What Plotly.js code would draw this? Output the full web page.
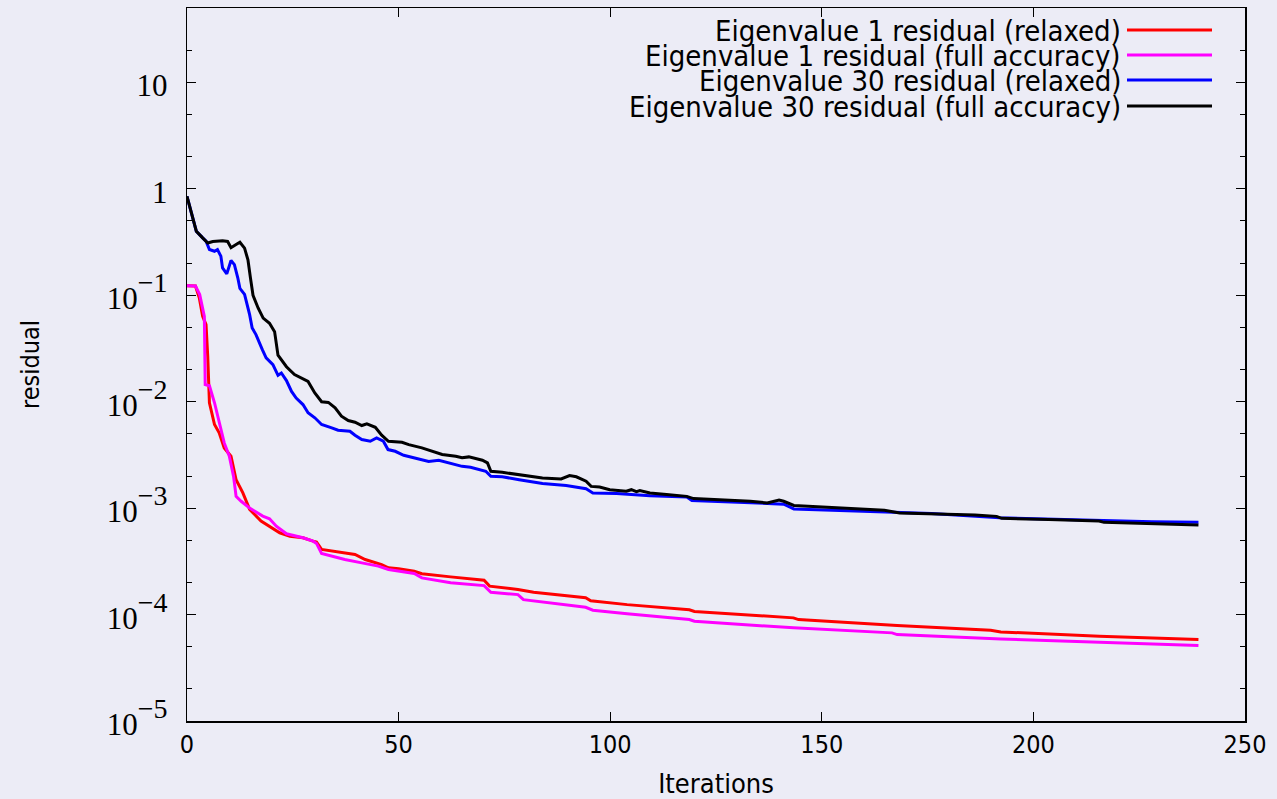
<!DOCTYPE html>
<html>
<head>
<meta charset="utf-8">
<script src="https://cdn.plot.ly/plotly-3.0.1.min.js"></script>
<style>html,body{margin:0;padding:0;background:#ececf6;}#chart{width:1277px;height:799px;}</style>
</head>
<body>
<div id="chart"></div>
<script>
// Series names
const seriesNames = [
  "Eigenvalue 1 residual (relaxed)",
  "Eigenvalue 1 residual (full accuracy)",
  "Eigenvalue 30 residual (relaxed)",
  "Eigenvalue 30 residual (full accuracy)"
];

// Eigenvalue 1 residual (relaxed)
const ev1RelaxedX = [0, 2, 2.9, 3.7, 4.5, 4.9, 5.3, 6.5, 7.6, 8.8, 10.4, 11.6, 13.2, 14.8, 17.5, 19.5, 21.9, 24.3, 27.4, 29.8, 30.6, 31.8, 39.7, 42.1, 46, 47.6, 50, 53.7, 55.5, 62.3, 70.2, 71.5, 78.2, 81.9, 94.2, 95.4, 104, 118.7, 119.9, 143.3, 144.5, 167.8, 189.9, 192.3, 215.6, 239];
const ev1RelaxedY = [0.123, 0.122, 0.0946, 0.0634, 0.053, 0.0267, 9.77e-3, 6.1e-3, 5.1e-3, 3.68e-3, 3.07e-3, 1.85e-3, 1.39e-3, 9.73e-4, 7.55e-4, 6.77e-4, 5.87e-4, 5.45e-4, 5.27e-4, 4.9e-4, 4.79e-4, 4.09e-4, 3.67e-4, 3.29e-4, 2.95e-4, 2.75e-4, 2.69e-4, 2.55e-4, 2.42e-4, 2.26e-4, 2.10e-4, 1.85e-4, 1.72e-4, 1.62e-4, 1.44e-4, 1.35e-4, 1.24e-4, 1.11e-4, 1.07e-4, 9.31e-5, 8.97e-5, 7.89e-5, 7.12e-5, 6.87e-5, 6.25e-5, 5.82e-5];

// Eigenvalue 1 residual (full accuracy)
const ev1FullX = [0, 2, 3, 4.1, 4.3, 5.3, 6.5, 7.6, 8.8, 10, 11, 11.6, 12.8, 14.8, 16.3, 17.9, 19.5, 21.1, 23.5, 27.4, 29.8, 30.6, 31.8, 37.3, 41.3, 45.2, 47.6, 50, 53.7, 55.5, 62.3, 70.2, 71.8, 78.2, 79.5, 94.2, 95.9, 104, 118.7, 119.9, 143.3, 166.6, 167.8, 192.3, 215.6, 239];
const ev1FullY = [0.123, 0.122, 0.1015, 0.0634, 0.0145, 0.0141, 9.77e-3, 6.32e-3, 4.1e-3, 3.07e-3, 1.99e-3, 1.29e-3, 1.16e-3, 1.0e-3, 9.17e-4, 8.41e-4, 7.95e-4, 6.77e-4, 5.74e-4, 5.27e-4, 4.89e-4, 4.66e-4, 3.75e-4, 3.29e-4, 3.06e-4, 2.85e-4, 2.65e-4, 2.55e-4, 2.43e-4, 2.21e-4, 1.99e-4, 1.87e-4, 1.62e-4, 1.54e-4, 1.38e-4, 1.17e-4, 1.10e-4, 1.02e-4, 8.97e-5, 8.65e-5, 7.5e-5, 6.73e-5, 6.49e-5, 5.91e-5, 5.48e-5, 5.11e-5];

// Eigenvalue 30 residual (relaxed)
const ev30RelaxedX = [0, 1.3, 2.2, 3.7, 4.5, 5.3, 6.5, 7.2, 8, 8.4, 9.4, 10.4, 11.2, 12, 12.5, 13.6, 14.8, 15.4, 16.3, 17.8, 18.7, 20.3, 21.5, 22.3, 23.5, 24.7, 25.8, 27.4, 28.6, 30.2, 31.8, 34.2, 35.7, 38.5, 39.7, 41.3, 43.3, 44.8, 46.4, 47.5, 49.2, 51.2, 54, 57.1, 59.5, 62.7, 65, 67, 70.6, 71.8, 74.5, 78.5, 84, 89.6, 94.3, 95.9, 101.5, 109.4, 118.1, 119.3, 129.2, 141, 143.4, 152.9, 168.8, 175.9, 192, 204, 216, 228, 239];
const ev30RelaxedY = [0.85, 0.53, 0.40, 0.346, 0.322, 0.269, 0.259, 0.269, 0.233, 0.181, 0.159, 0.212, 0.194, 0.146, 0.116, 0.102, 0.0658, 0.0493, 0.0427, 0.0308, 0.0258, 0.0223, 0.0177, 0.0186, 0.0158, 0.0125, 0.0108, 9.4e-3, 7.87e-3, 7.06e-3, 6.1e-3, 5.68e-3, 5.39e-3, 5.28e-3, 4.84e-3, 4.41e-3, 4.25e-3, 4.57e-3, 4.25e-3, 3.55e-3, 3.42e-3, 3.14e-3, 2.97e-3, 2.75e-3, 2.82e-3, 2.62e-3, 2.47e-3, 2.42e-3, 2.22e-3, 1.99e-3, 1.97e-3, 1.85e-3, 1.70e-3, 1.63e-3, 1.52e-3, 1.39e-3, 1.37e-3, 1.31e-3, 1.27e-3, 1.18e-3, 1.14e-3, 1.09e-3, 0.983e-3, 0.953e-3, 0.902e-3, 0.89e-3, 0.81e-3, 0.785e-3, 0.765e-3, 0.745e-3, 0.735e-3];

// Eigenvalue 30 residual (full accuracy)
const ev30FullX = [0, 1.3, 2.2, 3.7, 4.9, 6.1, 8.4, 9.6, 10.4, 11.6, 12.5, 13.6, 14.4, 15, 15.6, 16.8, 18, 19.5, 20.7, 21.5, 23.5, 25.4, 28.6, 30.2, 31.8, 33.4, 35, 36.5, 38.1, 39.7, 41.3, 42.5, 44.5, 46, 47.6, 50.8, 52.4, 55.5, 57.9, 60.3, 63.5, 65, 66.6, 69.8, 71, 71.8, 74.5, 78.5, 84, 88.4, 90.4, 92, 94.3, 95.5, 97.5, 99.9, 103.8, 105, 106.2, 107, 109.4, 113.3, 118.1, 119.7, 125.2, 133.1, 137.1, 139.9, 141, 143.4, 149, 156.9, 164.8, 168.4, 175.9, 186.2, 191.3, 192.5, 203.6, 215.5, 216.7, 227.4, 239];
const ev30FullY = [0.85, 0.53, 0.40, 0.346, 0.31, 0.32, 0.325, 0.32, 0.28, 0.30, 0.315, 0.277, 0.215, 0.145, 0.10, 0.076, 0.061, 0.0545, 0.0455, 0.0274, 0.0213, 0.0180, 0.0155, 0.0121, 0.0100, 0.00985, 0.00877, 0.00731, 0.00665, 0.00641, 0.00597, 0.0062, 0.00575, 0.00484, 0.00425, 0.00416, 0.00395, 0.00368, 0.00342, 0.00319, 0.00307, 0.00297, 0.00303, 0.00282, 0.00266, 0.00222, 0.00217, 0.00207, 1.92e-3, 1.88e-3, 2.02e-3, 1.97e-3, 1.79e-3, 1.60e-3, 1.58e-3, 1.49e-3, 1.44e-3, 1.49e-3, 1.43e-3, 1.46e-3, 1.39e-3, 1.34e-3, 1.29e-3, 1.23e-3, 1.20e-3, 1.16e-3, 1.12e-3, 1.19e-3, 1.16e-3, 1.06e-3, 1.03e-3, 0.983e-3, 0.953e-3, 0.901e-3, 0.888e-3, 0.863e-3, 0.837e-3, 0.802e-3, 0.780e-3, 0.758e-3, 0.735e-3, 0.715e-3, 0.695e-3];

// Tick labels
const xTickVals = [0, 50, 100, 150, 200, 250];
const xTickText = ["0", "50", "100", "150", "200", "250"];
const yTickVals = [1e-5, 1e-4, 1e-3, 1e-2, 1e-1, 1, 10];
const yTickBase = ["10", "10", "10", "10", "10", "1", "10"];
const yTickExp = ["−5", "−4", "−3", "−2", "−1", "", ""];
const yMinorVals = [2e-5,5e-5,2e-4,5e-4,2e-3,5e-3,2e-2,5e-2,0.2,0.5,2,5,20,50];

const yTickText = yTickBase.map((b, i) =>
  '<span style="font-size:31px">' + b + '</span>' + (yTickExp[i] ? '<sup>' + yTickExp[i] + '</sup>' : ''));

const colors = ["#ff0000", "#ff00ff", "#0000ff", "#000000"];
const xs = [ev1RelaxedX, ev1FullX, ev30RelaxedX, ev30FullX];
const ys = [ev1RelaxedY, ev1FullY, ev30RelaxedY, ev30FullY];

const sans = "DejaVu Sans Condensed, Liberation Sans Narrow, DejaVu Sans, sans-serif";
const serif = "Liberation Serif, DejaVu Serif, serif";
const bg = "#ececf6";

const traces = seriesNames.map((n, i) => ({
  x: xs[i], y: ys[i], name: n, type: "scatter", mode: "lines",
  line: {color: colors[i], width: 3},
  showlegend: false
}));

// Manual legend (text on the left, sample line on the right)
const legRowsY = [30, 55, 80, 106];
const plotL = 187, plotR = 1245, plotT = 8, plotB = 721;
const px2x = p => (p - plotL) / (plotR - plotL);
const py2y = p => (plotB - p) / (plotB - plotT);
const annotations = seriesNames.map((n, i) => ({
  xref: "paper", yref: "paper", x: px2x(1122), y: py2y(legRowsY[i] + 1),
  xanchor: "right", yanchor: "middle", text: n, showarrow: false, borderpad: 0,
  font: {family: sans, size: 29, color: "#000"}
}));
const shapes = seriesNames.map((n, i) => ({
  type: "line", xref: "paper", yref: "paper",
  x0: px2x(1127), x1: px2x(1212), y0: py2y(legRowsY[i]), y1: py2y(legRowsY[i]),
  line: {color: colors[i], width: 3}
}));

const layout = {
  width: 1277, height: 799,
  margin: {l: plotL, r: 1277 - plotR, t: plotT, b: 799 - plotB},
  paper_bgcolor: bg, plot_bgcolor: bg,
  showlegend: false,
  xaxis: {
    range: [0, 250], tickmode: "array", tickvals: xTickVals, ticktext: xTickText,
    ticks: "inside", ticklen: 9, tickwidth: 1, tickcolor: "#000",
    showline: true, linecolor: "#000", linewidth: 1.5, mirror: "ticks",
    showgrid: false, zeroline: false,
    tickfont: {family: sans, size: 25, color: "#000"},
    title: {text: "Iterations", font: {family: sans, size: 27, color: "#000"}, standoff: 18}
  },
  yaxis: {
    type: "log", range: [-5, Math.log10(50)], tickmode: "array", tickvals: yTickVals, ticktext: yTickText,
    ticks: "inside", ticklen: 9, tickwidth: 1, tickcolor: "#000",
    showline: true, linecolor: "#000", linewidth: 1.5, mirror: "ticks",
    showgrid: false, zeroline: false,
    minor: {tickmode: "array", tickvals: yMinorVals, ticks: "inside", ticklen: 5, tickcolor: "#000", showgrid: false},
    ticklabelstandoff: 10,
    tickfont: {family: serif, size: 40, color: "#000"},
    title: {text: "residual", font: {family: sans, size: 25, color: "#000"}, standoff: 60}
  },
  annotations: annotations,
  shapes: shapes
};

Plotly.newPlot("chart", traces, layout, {displayModeBar: false, staticPlot: true});
</script>
</body>
</html>
